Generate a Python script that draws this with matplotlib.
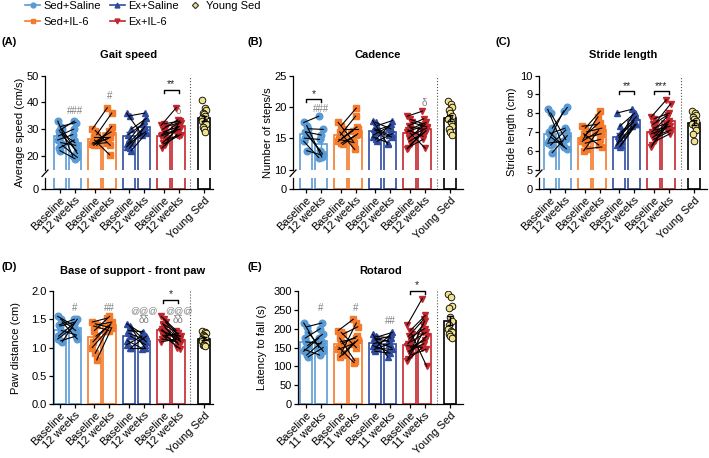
import numpy as np
import matplotlib
matplotlib.use('Agg')
import matplotlib.pyplot as plt
from matplotlib.lines import Line2D

plt.rcParams['font.family'] = ['Liberation Sans', 'DejaVu Sans']
plt.rcParams['font.size'] = 8

# ---------- data ----------
group_names = ['Sed+Saline', 'Sed+IL-6', 'Ex+Saline', 'Ex+IL-6', 'Young Sed']
labels_12w = ['Baseline', '12 weeks'] * 4 + ['Young Sed']
labels_11w = ['Baseline', '11 weeks'] * 4 + ['Young Sed']

# (A) Gait speed, cm/s
speed_sed_sal_base = [33, 31, 30, 29.5, 29, 28, 27.5, 26, 25, 24, 23, 22]
speed_sed_sal_wk = [20, 32.5, 21, 33, 25, 22, 30, 28, 24, 19.5, 26, 19]
speed_sed_il6_base = [30, 29.5, 28, 27, 26, 25.5, 25, 24.5, 24.5, 24, 24]
speed_sed_il6_wk = [38, 24, 36, 27, 20.5, 29, 26.5, 25, 27, 31, 29.5]
speed_ex_sal_base = [36, 35, 30, 28, 26, 25, 24.5, 23.5, 23, 22]
speed_ex_sal_wk = [28, 36, 34, 32, 33, 29, 30, 28.5, 31, 28.5]
speed_ex_il6_base = [31.5, 32, 31, 30, 29, 28.5, 28, 27.5, 27, 26, 25, 24.5, 24, 23]
speed_ex_il6_wk = [38, 33, 32.5, 33.5, 31, 30, 32, 29.5, 31, 28, 30, 27.5, 33, 28]
speed_young = [41, 38, 37, 36, 35.5, 35, 34, 33, 32.5, 32, 31, 30, 29]

# (B) Cadence, steps/s
cad_sed_sal_base = [17.5, 17, 16.5, 16, 16, 15.5, 15, 14.5, 13]
cad_sed_sal_wk = [18.5, 12, 16.4, 13, 15.5, 12.5, 14.8, 11.9, 12.3]
cad_sed_il6_base = [17.5, 17, 16.5, 16, 15.5, 15, 14.8, 14.5, 14.2, 14]
cad_sed_il6_wk = [14.5, 19.8, 16.5, 13.2, 18.5, 16.8, 14.3, 16.2, 15.5, 15.7]
cad_ex_sal_base = [17.8, 17.5, 17, 16.5, 16.2, 16, 15.5, 15.2, 14.8, 14.5]
cad_ex_sal_wk = [14, 16.5, 17.8, 15.5, 17, 15.2, 16.8, 14.3, 17.2, 15.7]
cad_ex_il6_base = [18.5, 18, 17.5, 17, 16.8, 16.5, 16.3, 16, 15.8, 15.5, 15, 14.5, 14, 13.5, 13.3]
cad_ex_il6_wk = [19.3, 17.2, 16.8, 18.1, 16.4, 17.5, 15.3, 16.9, 13.4, 16.6, 17, 15.9, 16.2, 14.8, 16.1]
cad_young = [21, 20.5, 20, 19.5, 19, 18.5, 18.2, 18, 17.5, 17, 16.5, 16, 15.5]

# (C) Stride length, cm
stride_sed_sal_base = [8.2, 8.0, 7.2, 7.0, 6.9, 6.7, 6.5, 6.4, 6.3, 5.9]
stride_sed_sal_wk = [6.3, 6.6, 8.3, 6.2, 7.2, 6.1, 8.1, 6.5, 7.1, 6.8]
stride_sed_il6_base = [7.3, 7.2, 7.0, 6.9, 6.8, 6.7, 6.6, 6.5, 6.4, 6.1, 6.0]
stride_sed_il6_wk = [7.4, 8.1, 7.2, 6.3, 7.5, 6.9, 7.8, 7.0, 6.6, 6.2, 7.1]
stride_ex_sal_base = [8.0, 7.3, 7.0, 6.8, 6.7, 6.5, 6.4, 6.3, 6.2, 6.3]
stride_ex_sal_wk = [8.2, 8.0, 7.8, 7.5, 7.6, 7.4, 7.9, 7.3, 7.4, 7.4]
stride_ex_il6_base = [7.8, 7.7, 7.5, 7.4, 7.2, 7.1, 7.0, 6.9, 6.9, 6.8, 6.7, 6.6, 6.5, 6.3, 6.2]
stride_ex_il6_wk = [8.7, 8.0, 8.5, 7.9, 7.5, 7.3, 7.8, 7.2, 7.6, 7.1, 7.4, 7.0, 6.9, 7.3, 7.4]
stride_young = [8.1, 8.0, 7.9, 7.8, 7.7, 7.6, 7.5, 7.4, 7.3, 7.1, 6.9, 6.5]

# (D) Base of support - front paw, cm
paw_sed_sal_base = [1.55, 1.5, 1.45, 1.4, 1.38, 1.3, 1.2, 1.15, 1.12, 1.1]
paw_sed_sal_wk = [1.4, 1.3, 1.15, 1.5, 1.45, 1.22, 1.42, 1.35, 1.2, 1.5]
paw_sed_il6_base = [1.45, 1.42, 1.4, 1.38, 1.3, 1.2, 1.1, 1.0, 0.9, 0.78]
paw_sed_il6_wk = [1.52, 1.35, 1.45, 1.3, 1.55, 1.42, 1.38, 1.3, 1.4, 1.35]
paw_ex_sal_base = [1.42, 1.38, 1.35, 1.3, 1.25, 1.2, 1.12, 1.05, 1.0, 1.0]
paw_ex_sal_wk = [1.25, 1.0, 1.1, 1.28, 1.15, 1.05, 0.98, 1.2, 1.0, 1.2]
paw_ex_il6_base = [1.55, 1.5, 1.45, 1.42, 1.4, 1.35, 1.32, 1.3, 1.28, 1.25, 1.22, 1.2, 1.18, 1.15, 1.1]
paw_ex_il6_wk = [1.3, 1.2, 1.1, 1.25, 1.05, 1.15, 1.0, 1.18, 1.12, 1.2, 1.08, 1.25, 0.98, 1.1, 1.15]
paw_young = [1.3, 1.28, 1.25, 1.22, 1.2, 1.18, 1.15, 1.12, 1.1, 1.08, 1.05, 1.05, 1.02]

# (E) Rotarod, s
rot_sed_sal_base = [215, 205, 190, 175, 165, 155, 145, 140, 130, 125]
rot_sed_sal_wk = [150, 215, 140, 200, 160, 185, 130, 175, 165, 150]
rot_sed_il6_base = [195, 190, 185, 175, 165, 160, 150, 145, 135, 130, 125]
rot_sed_il6_wk = [225, 150, 205, 115, 175, 180, 110, 160, 215, 170, 165]
rot_ex_sal_base = [185, 180, 178, 175, 170, 165, 160, 155, 150, 148, 145, 140]
rot_ex_sal_wk = [125, 175, 190, 165, 180, 150, 170, 140, 185, 145, 160, 135]
rot_ex_il6_base = [210, 195, 185, 180, 175, 165, 160, 155, 150, 145, 140, 135, 130, 120, 115]
rot_ex_il6_wk = [280, 235, 100, 225, 200, 190, 210, 150, 170, 180, 160, 220, 145, 190, 150]
rot_young = [292, 285, 260, 255, 230, 220, 210, 200, 195, 190, 185, 180, 175]

# significance marks: (bar index, y, text)  /  brackets: (bar i, bar j, y, text)
speed_marks = [(1, 36.9, '###'), (3, 42.4, '#'), (7, 36.8, 'δ')]
speed_brackets = [(6, 7, 44.6, '**')]
cad_marks = [(1, 19.6, '###'), (7, 20.6, 'δ')]
cad_brackets = [(0, 1, 21.2, '*')]
stride_marks = []
stride_brackets = [(4, 5, 9.16, '**'), (6, 7, 9.16, '***')]
paw_marks = [(1, 1.70, '#'), (3, 1.70, '##'), (5, 1.65, '@@@'), (5, 1.49, 'δδ'),
             (7, 1.65, '@@@'), (7, 1.49, 'δδ')]
paw_brackets = [(6, 7, 1.84, '*')]
rot_marks = [(1, 256, '#'), (3, 256, '#'), (5, 220, '##')]
rot_brackets = [(6, 7, 300, '*')]

# ---------- style ----------
W, H = 709, 458
colors = ['#5b9bd5', '#f47a2c', '#2f4b9e', '#c1272d']
markers = ['o', 's', '^', 'v']
young_color = '#f1e08c'
mark_grey = '#7f7f7f'
pos = [0, 1, 2.3, 3.3, 4.6, 5.6, 6.9, 7.9, 9.6]
bar_w = 0.85
offset_cycle = [-0.15, 0.05, 0.15, -0.05, 0.0, 0.1, -0.1]

fig = plt.figure(figsize=(W / 100, H / 100), dpi=100)


def px_axes(x0, x1, y0, y1):
    return fig.add_axes([x0 / W, 1 - y1 / H, (x1 - x0) / W, (y1 - y0) / H])


def style_axis(ax):
    for s in ['top', 'right']:
        ax.spines[s].set_visible(False)
    for s in ['left', 'bottom']:
        ax.spines[s].set_linewidth(0.9)
    ax.tick_params(direction='out', length=3, width=0.9, labelsize=8, pad=1.5)


def offsets(n):
    return np.array((offset_cycle * 3)[:n])


def draw_panel(ax_top, ax_all, pairs, young, marks, brackets, px_h):
    for k, (base, wk) in enumerate(pairs):
        col = colors[k]
        for j, vals in enumerate((base, wk)):
            x = pos[2 * k + j]
            m = np.mean(vals)
            sem = np.std(vals, ddof=1) / np.sqrt(len(vals))
            for ax in ax_all:
                ax.bar(x, m, width=bar_w, color='white', edgecolor=col, linewidth=1.2, zorder=2)
            ax_top.errorbar(x, m, yerr=sem, color=col, capsize=2, lw=1, zorder=3)
        off = offsets(len(base))
        xb = pos[2 * k] + off
        xw = pos[2 * k + 1] + off
        for i in range(len(base)):
            ax_top.plot([xb[i], xw[i]], [base[i], wk[i]], color='black', lw=0.8, zorder=5)
        ax_top.plot(xb, base, ls='none', marker=markers[k], ms=4.8, color=col, zorder=4)
        ax_top.plot(xw, wk, ls='none', marker=markers[k], ms=4.8, color=col, zorder=4)
    # young sed
    m = np.mean(young)
    sem = np.std(young, ddof=1) / np.sqrt(len(young))
    for ax in ax_all:
        ax.bar(pos[8], m, width=bar_w, color='white', edgecolor='black', linewidth=1.2, zorder=2)
        ax.axvline(8.7, color='#555555', ls=':', lw=0.8, zorder=1)
    ax_top.errorbar(pos[8], m, yerr=sem, color='black', capsize=2.5, lw=1, zorder=5)
    ax_top.plot(pos[8] + offsets(len(young)), young, ls='none', marker='o', ms=4.8,
                mfc=young_color, mec='black', mew=0.6, zorder=4)
    # significance
    lo, hi = ax_top.get_ylim()
    drop = (hi - lo) * 3 / px_h
    for i, y, t in marks:
        fs = 6.5 if '@' in t else 7
        ax_top.text(pos[i], y, t, ha='center', va='center', color=mark_grey, fontsize=fs, clip_on=False)
    for i, j, y, t in brackets:
        ax_top.plot([pos[i], pos[i], pos[j], pos[j]], [y - drop, y, y, y - drop],
                    color='black', lw=1, clip_on=False, zorder=6)
        ax_top.text((pos[i] + pos[j]) / 2, y + drop * 0.2, t, ha='center', va='bottom',
                    color='#222222', fontsize=7.5, clip_on=False)


def broken_panel(x0, x1, first, ylim, yticks, pairs, young, marks, brackets, xlabels,
                 title, ylabel, label, label_x, ylab_off):
    top_y0, top_y1, bot_y0, bot_y1 = 75.5, 169.5, 178, 189
    ax_t = px_axes(x0, x1, top_y0, top_y1)
    ax_b = px_axes(x0, x1, bot_y0, bot_y1)
    xl = ((x0 - first) / 15, (x1 - first) / 15)
    for ax in (ax_t, ax_b):
        style_axis(ax)
        ax.set_xlim(*xl)
    ax_t.set_ylim(*ylim)
    ax_t.set_yticks(yticks)
    ax_t.spines['bottom'].set_visible(False)
    ax_t.set_xticks([])
    ax_b.set_ylim(0, 1)
    ax_b.set_yticks([0])
    ax_b.set_xticks(pos)
    ax_b.set_xticklabels(xlabels, rotation=45, ha='right', rotation_mode='anchor')
    draw_panel(ax_t, (ax_t, ax_b), pairs, young, marks, brackets, top_y1 - top_y0)
    # break mark on the y axis
    fig.add_artist(Line2D([(x0 - 3) / W, (x0 + 3) / W], [1 - 176.5 / H, 1 - 170 / H],
                          color='black', lw=0.9))
    fig.text((x0 + x1) / 2 / W, 1 - 55 / H, title, ha='center', va='center', fontweight='bold')
    fig.text((x0 - ylab_off) / W, 1 - (top_y0 + bot_y1) / 2 / H, ylabel, rotation=90,
             ha='center', va='center')
    fig.text(label_x / W, 1 - 42 / H, label, ha='left', va='center', fontweight='bold')


def plain_panel(x0, x1, first, ylim, yticks, ytick_fmt, pairs, young, marks, brackets, xlabels,
                title, ylabel, label, label_x, ylab_off):
    y0, y1 = 291, 404
    ax = px_axes(x0, x1, y0, y1)
    style_axis(ax)
    ax.set_xlim((x0 - first) / 15, (x1 - first) / 15)
    ax.set_ylim(*ylim)
    ax.set_yticks(yticks)
    ax.set_yticklabels([ytick_fmt.format(v) for v in yticks])
    ax.set_xticks(pos)
    ax.set_xticklabels(xlabels, rotation=45, ha='right', rotation_mode='anchor')
    draw_panel(ax, (ax,), pairs, young, marks, brackets, y1 - y0)
    fig.text((x0 + x1) / 2 / W, 1 - 271 / H, title, ha='center', va='center', fontweight='bold')
    fig.text((x0 - ylab_off) / W, 1 - (y0 + y1) / 2 / H, ylabel, rotation=90,
             ha='center', va='center')
    fig.text(label_x / W, 1 - 267 / H, label, ha='left', va='center', fontweight='bold')


broken_panel(45, 213, 60, (15, 50), [20, 30, 40, 50],
             [(speed_sed_sal_base, speed_sed_sal_wk), (speed_sed_il6_base, speed_sed_il6_wk),
              (speed_ex_sal_base, speed_ex_sal_wk), (speed_ex_il6_base, speed_ex_il6_wk)],
             speed_young, speed_marks, speed_brackets, labels_12w,
             'Gait speed', 'Average speed (cm/s)', '(A)', 1, 25)
broken_panel(293, 463, 306, (10, 25), [10, 15, 20, 25],
             [(cad_sed_sal_base, cad_sed_sal_wk), (cad_sed_il6_base, cad_sed_il6_wk),
              (cad_ex_sal_base, cad_ex_sal_wk), (cad_ex_il6_base, cad_ex_il6_wk)],
             cad_young, cad_marks, cad_brackets, labels_12w,
             'Cadence', 'Number of steps/s', '(B)', 247, 25)
broken_panel(539, 707, 550, (5, 10), [5, 6, 7, 8, 9, 10],
             [(stride_sed_sal_base, stride_sed_sal_wk), (stride_sed_il6_base, stride_sed_il6_wk),
              (stride_ex_sal_base, stride_ex_sal_wk), (stride_ex_il6_base, stride_ex_il6_wk)],
             stride_young, stride_marks, stride_brackets, labels_12w,
             'Stride length', 'Stride length (cm)', '(C)', 495, 27)
plain_panel(53, 213, 60, (0, 2), [0, 0.5, 1.0, 1.5, 2.0], '{:.1f}',
            [(paw_sed_sal_base, paw_sed_sal_wk), (paw_sed_il6_base, paw_sed_il6_wk),
             (paw_ex_sal_base, paw_ex_sal_wk), (paw_ex_il6_base, paw_ex_il6_wk)],
            paw_young, paw_marks, paw_brackets, labels_12w,
            'Base of support - front paw', 'Paw distance (cm)', '(D)', 1, 37)
plain_panel(298, 463, 306, (0, 300), [0, 50, 100, 150, 200, 250, 300], '{:d}',
            [(rot_sed_sal_base, rot_sed_sal_wk), (rot_sed_il6_base, rot_sed_il6_wk),
             (rot_ex_sal_base, rot_ex_sal_wk), (rot_ex_il6_base, rot_ex_il6_wk)],
            rot_young, rot_marks, rot_brackets, labels_11w,
            'Rotarod', 'Latency to fall (s)', '(E)', 247, 36)

# legend
handles = [Line2D([0], [0], color=colors[k], marker=markers[k], ms=3.5, lw=1.2) for k in range(4)]
handles.append(Line2D([0], [0], ls='none', marker='D', ms=3.2, mfc=young_color, mec='#333333', mew=0.8))
fig.legend(handles, group_names, ncol=3,
           loc='upper left', bbox_to_anchor=(25 / W, 1 - 1 / H), frameon=False, fontsize=8,
           handlelength=1.35, handletextpad=0.3, columnspacing=0.8, labelspacing=0.5,
           borderaxespad=0, borderpad=0)

fig.savefig('out.png', dpi=100)
